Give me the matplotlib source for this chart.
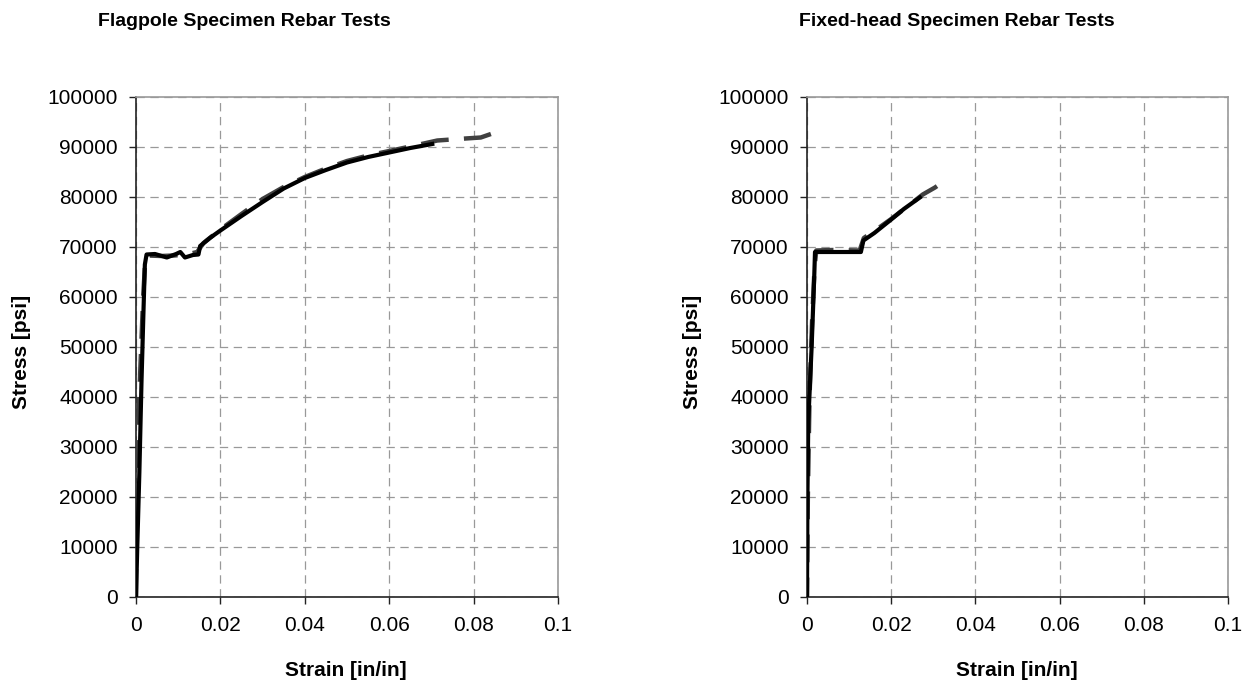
import matplotlib
matplotlib.use("Agg")
import matplotlib.pyplot as plt
from matplotlib.ticker import FixedLocator

plt.rcParams['font.family'] = ['Liberation Sans', 'DejaVu Sans']
plt.rcParams['lines.scale_dashes'] = False

# ---- data ----
flag_t1_strain = [0, 0.0003, 0.0008, 0.0013, 0.0018, 0.0021, 0.0025, 0.0045, 0.0073, 0.0095,
                  0.0105, 0.0116, 0.0135, 0.0148, 0.0152, 0.0175, 0.02, 0.025, 0.03, 0.035,
                  0.04, 0.045, 0.05, 0.055, 0.06, 0.065, 0.0702]
flag_t1_stress = [0, 10000, 25000, 43000, 58000, 66500, 68500, 68600, 67900, 68600,
                  69000, 67900, 68400, 68500, 70200, 71800, 73300, 76200, 79000, 81700,
                  83800, 85400, 86900, 88000, 88900, 89800, 90600]

flag_t2_strain = [0, 0.0001, 0.0004, 0.001, 0.0017, 0.0022, 0.0028, 0.006, 0.009, 0.012,
                  0.0145, 0.016, 0.02, 0.025, 0.03, 0.035, 0.04, 0.045, 0.05, 0.055,
                  0.06, 0.065, 0.0714, 0.0781, 0.0817, 0.0841]
flag_t2_stress = [0, 20000, 32000, 45000, 60000, 67500, 68300, 68200, 68300, 68500,
                  69000, 70800, 73500, 76600, 79600, 82000, 84000, 85700, 87200, 88300,
                  89200, 90100, 91300, 91700, 91900, 92600]

fixed_t1_strain = [0, 0.0001, 0.0003, 0.0011, 0.0017, 0.0019, 0.005, 0.0128, 0.0134,
                   0.016, 0.0197, 0.023, 0.0268]
fixed_t1_stress = [0, 20000, 35000, 50000, 63600, 69000, 69000, 69000, 71300,
                   72800, 75300, 77600, 79900]

fixed_t2_strain = [0, 0.0002, 0.0006, 0.0012, 0.0018, 0.0022, 0.006, 0.0125, 0.0135,
                   0.017, 0.020, 0.024, 0.0275, 0.0304, 0.0316]
fixed_t2_stress = [0, 20000, 40000, 55000, 66000, 69300, 69400, 69300, 71800,
                   73800, 75600, 78200, 80500, 81900, 82600]

x_ticks = [0, 0.02, 0.04, 0.06, 0.08, 0.1]
x_tick_labels = ["0", "0.02", "0.04", "0.06", "0.08", "0.1"]
y_ticks = list(range(0, 100001, 10000))
y_tick_labels = [str(v) for v in y_ticks]

titles = ["Flagpole Specimen Rebar Tests", "Fixed-head Specimen Rebar Tests"]
xlabel = "Strain [in/in]"
ylabel = "Stress [psi]"

W, H = 1253, 687
fig = plt.figure(figsize=(W / 100, H / 100), dpi=100)

def px(x0, y0, x1, y1):
    return [x0 / W, 1 - y1 / H, (x1 - x0) / W, (y1 - y0) / H]

axes = [fig.add_axes(px(136, 97, 558, 597)), fig.add_axes(px(807, 97, 1228, 597))]
series = [((flag_t1_strain, flag_t1_stress), (flag_t2_strain, flag_t2_stress)),
          ((fixed_t1_strain, fixed_t1_stress), (fixed_t2_strain, fixed_t2_stress))]
dash_patterns = [(0, (20, 11)), (6, (20, 11))]

for ax, (s1, s2), dp in zip(axes, series, dash_patterns):
    ax.set_xlim(0, 0.1)
    ax.set_ylim(0, 100000)
    ax.xaxis.set_major_locator(FixedLocator(x_ticks))
    ax.set_xticklabels(x_tick_labels)
    ax.yaxis.set_major_locator(FixedLocator(y_ticks))
    ax.set_yticklabels(y_tick_labels)
    ax.tick_params(axis='both', direction='out', length=5, width=1, color='#222222',
                   labelsize=15, labelcolor='black')
    ax.tick_params(axis='x', pad=9)
    ax.tick_params(axis='y', pad=8)
    ax.grid(True, color='#999999', linewidth=0.9, linestyle=(0, (6, 4)))
    ax.set_axisbelow(True)
    for side in ['top', 'right']:
        ax.spines[side].set_color('#999999')
        ax.spines[side].set_linewidth(1.2)
    for side in ['bottom', 'left']:
        ax.spines[side].set_color('#222222')
        ax.spines[side].set_linewidth(1.2)
    ax.plot(s2[0], s2[1], color='#404040', linewidth=3.2, linestyle=dp,
            solid_capstyle='butt', dash_capstyle='butt', zorder=3)
    ax.plot(s1[0], s1[1], color='black', linewidth=3.0, zorder=4,
            solid_joinstyle='round')

fig.text(244 / W, 1 - 22 / H, titles[0], ha='center', va='center', fontsize=14, fontweight='bold')
fig.text(957 / W, 1 - 22 / H, titles[1], ha='center', va='center', fontsize=14, fontweight='bold')
fig.text(346 / W, 1 - 671 / H, xlabel, ha='center', va='center', fontsize=15, fontweight='bold')
fig.text(1017 / W, 1 - 671 / H, xlabel, ha='center', va='center', fontsize=15, fontweight='bold')
fig.text(22 / W, 1 - 352 / H, ylabel, ha='center', va='center', fontsize=15, fontweight='bold', rotation=90)
fig.text(693 / W, 1 - 352 / H, ylabel, ha='center', va='center', fontsize=15, fontweight='bold', rotation=90)

fig.savefig("out.png", dpi=100, facecolor='white')
